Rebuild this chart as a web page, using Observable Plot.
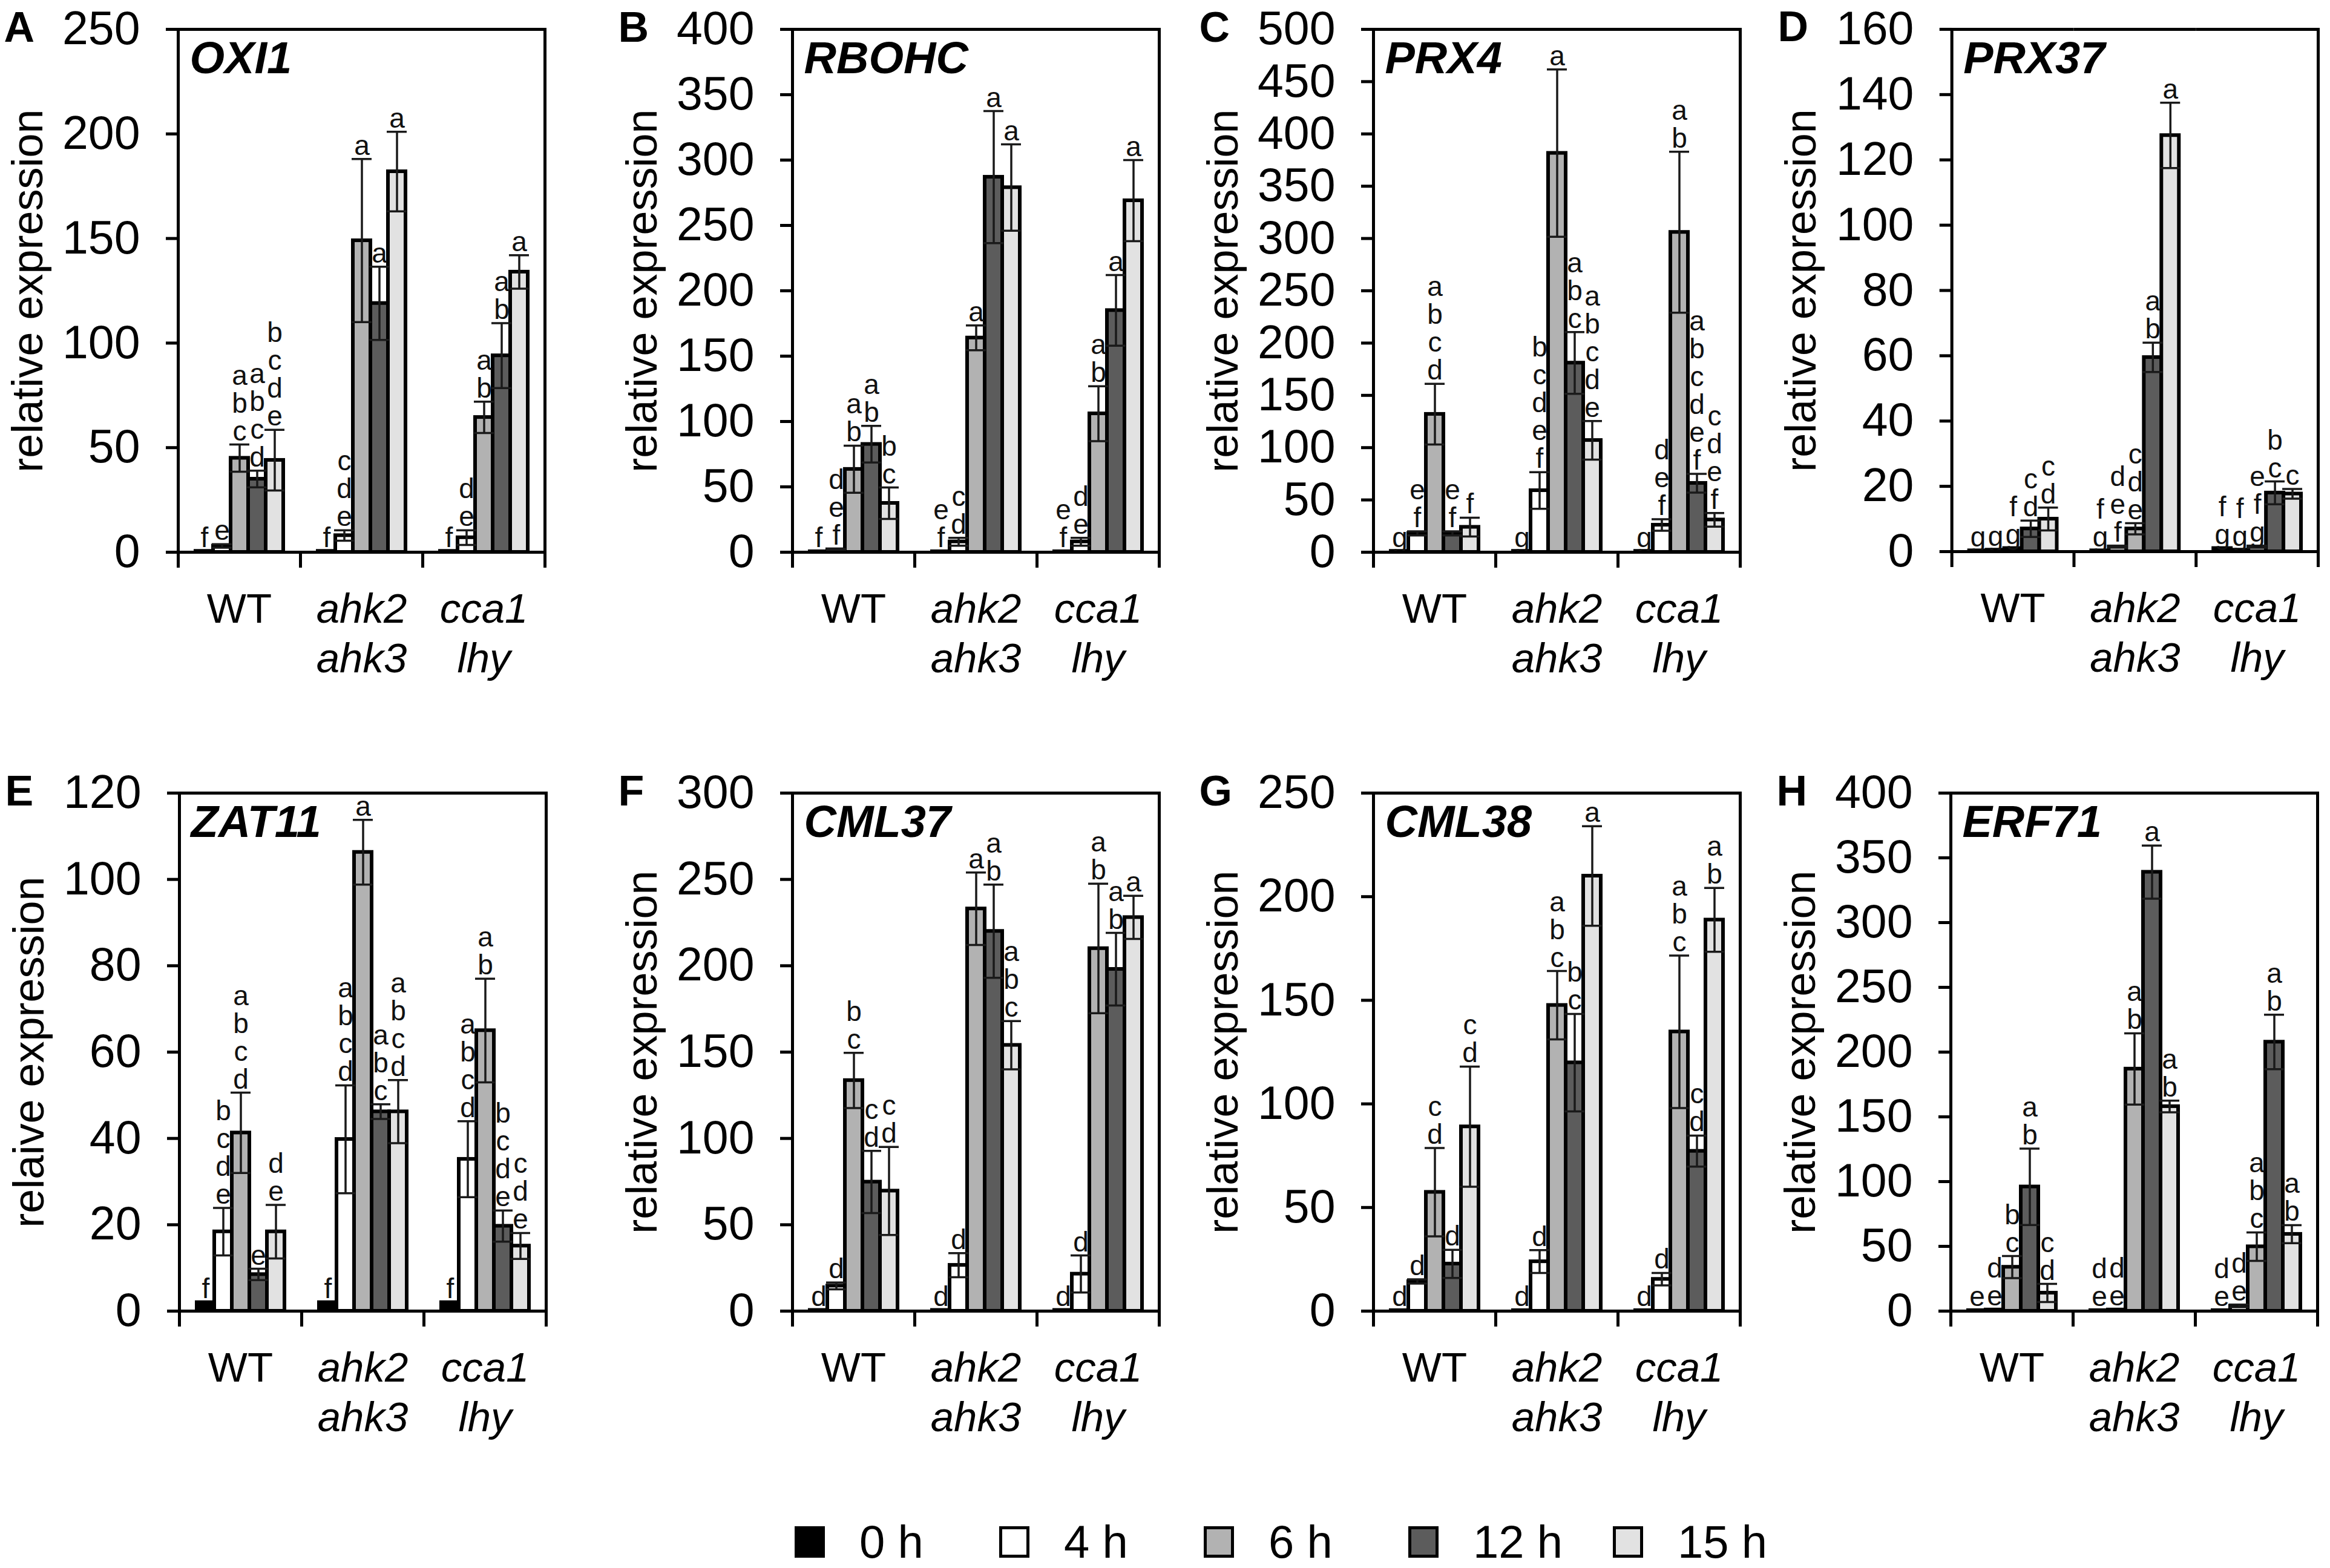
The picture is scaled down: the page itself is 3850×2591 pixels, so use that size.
<!DOCTYPE html>
<html><head><meta charset="utf-8">
<script src="https://cdn.jsdelivr.net/npm/d3@7"></script>
<script src="https://cdn.jsdelivr.net/npm/@observablehq/plot@0.6"></script>
<style>
html,body{margin:0;padding:0;background:#fff;}
#page{position:relative;width:3850px;height:2591px;background:#fff;overflow:hidden;font-family:"Liberation Sans",Arial,sans-serif;color:#000;}
.panel{position:absolute;}
#legend{position:absolute;left:1313px;top:2510px;display:flex;align-items:center;height:76px;}
.item{width:338px;display:flex;align-items:center;font-size:76px;line-height:76px;}
.sw{width:50px;height:52px;box-sizing:border-box;border:5px solid #000;margin-right:57px;}
</style></head>
<body><div id="page"></div>
<script>
// ---- categories ----
const groups = ["WT", "ahk2 ahk3", "cca1 lhy"];
const groupLines = ["WT", "ahk2\nahk3", "cca1\nlhy"];
const times = ["0 h", "4 h", "6 h", "12 h", "15 h"];
const timeFills = ["#000000", "#ffffff", "#b2b2b2", "#5c5c5c", "#e2e2e2"];
const genes = ["OXI1", "RBOHC", "PRX4", "PRX37", "ZAT11", "CML37", "CML38", "ERF71"];
const panelLetters = ["A", "B", "C", "D", "E", "F", "G", "H"];
const yTitles = ["relative expression", "relative expression", "relative expression", "relative expression",
                 "relaive expression", "relative expression", "relative expression", "relative expression"];
const yMax = [250, 400, 500, 160, 120, 300, 250, 400];
const yStep = [50, 50, 50, 20, 20, 50, 50, 50];

// ---- values (order: WT 0,4,6,12,15 h | ahk2 ahk3 ... | cca1 lhy ...) ----
const oxi1Mean = [0.5, 3, 45, 35, 44, 0.5, 8, 149, 119, 182, 0.5, 7, 64.5, 94, 134];
const oxi1Sd   = [0, 0.8, 6.5, 4, 14.5, 0, 2.5, 39, 17.5, 19, 0, 3.5, 7.5, 15.5, 8];
const oxi1Sig  = ["f","e","abc","abcd","bcde","f","cde","a","a","a","f","de","ab","ab","a"];

const rbohcMean = [0.5, 2, 63.5, 82.6, 37.5, 0.5, 8, 164, 287, 279, 0.5, 8, 106, 185, 269];
const rbohcSd   = [0, 0.5, 18, 14, 12, 0, 3, 9.5, 50.5, 33, 0, 3, 21, 27, 31];
const rbohcSig  = ["f","def","ab","ab","bc","ef","cd","a","a","a","ef","de","ab","a","a"];

const prx4Mean = [1, 18, 132, 18, 24, 1, 59, 381.6, 181, 107, 1, 26, 306, 66, 31];
const prx4Sd   = [0, 2, 29, 2, 9, 0, 17.5, 80, 29.5, 18.5, 0, 5.5, 77, 9, 6.5];
const prx4Sig  = ["g","ef","abcd","ef","f","g","bcdef","a","abc","abcde","g","def","ab","abcdef","cdef"];

const prx37Mean = [0.3, 0.5, 1, 7, 10, 0.3, 1.5, 7, 59.5, 127.5, 1, 0.5, 1.5, 18, 17.7];
const prx37Sd   = [0, 0, 0, 2.5, 3.5, 0, 0.3, 1.7, 4.5, 10, 0, 0, 0.3, 3.5, 1.5];
const prx37Sig  = ["g","g","fg","cd","cd","fg","def","cde","ab","a","fg","fg","efg","bc","c"];

const zat11Mean = [2, 18.4, 41.3, 8.5, 18.4, 2, 39.8, 106.3, 46.2, 46.2, 2, 35.2, 65, 19.7, 15.1];
const zat11Sd   = [0, 5.5, 9.3, 1.3, 6.2, 0, 12.5, 7.5, 1.7, 7.3, 0, 8.8, 12, 3.6, 3];
const zat11Sig  = ["f","bcde","abcd","e","de","f","abcd","a","abc","abcd","f","abcd","ab","bcde","cde"];

const cml37Mean = [0.5, 14.6, 133.6, 74.8, 69.6, 0.5, 26.6, 233, 220, 154, 0.5, 21.5, 210, 198, 228];
const cml37Sd   = [0, 2, 16, 18, 25.5, 0, 7, 21, 27, 14, 0, 10.7, 37.5, 21, 12.5];
const cml37Sig  = ["d","d","bc","cd","cd","d","d","a","ab","abc","d","d","ab","ab","a"];

const cml38Mean = [0.3, 14.3, 57.4, 22.8, 89, 0.3, 23.9, 147.6, 119.9, 210, 0.3, 15.4, 134.8, 77.2, 188.8];
const cml38Sd   = [0, 1, 21.3, 6.8, 29, 0, 5.5, 16.5, 23.5, 24, 0, 3, 36.8, 7.5, 15.4];
const cml38Sig  = ["d","d","cd","d","cd","d","d","abc","bc","a","d","d","abc","cd","ab"];

const erf71Mean = [0.5, 1, 34, 96, 14, 0.5, 1, 187, 339, 158, 0.5, 4, 49.8, 207.8, 59.4];
const erf71Sd   = [0, 0, 8.5, 29.5, 7, 0, 0, 27.5, 20.5, 4.5, 0, 1, 11, 21, 7];
const erf71Sig  = ["e","de","bc","ab","cd","de","de","ab","a","ab","de","de","abc","ab","ab"];

const means = [oxi1Mean, rbohcMean, prx4Mean, prx37Mean, zat11Mean, cml37Mean, cml38Mean, erf71Mean];
const sds   = [oxi1Sd, rbohcSd, prx4Sd, prx37Sd, zat11Sd, cml37Sd, cml38Sd, erf71Sd];
const sigs  = [oxi1Sig, rbohcSig, prx4Sig, prx37Sig, zat11Sig, cml37Sig, cml38Sig, erf71Sig];

// ---- layout ----
const FONT = '"Liberation Sans", Arial, sans-serif';
const panelLeft = [0, 1015, 1975, 2931, 2, 1015, 1975, 2929];
const panelTop  = [0, 0, 0, 0, 1262, 1262, 1262, 1262];
const innerH    = [864, 864, 864, 864, 856, 856, 856, 856];
const frameW = 607, mL = 293, mR = 20, mT = 48, mB = 220;

function makePanel(i) {
  const rows = [];
  groups.forEach((g, gi) => times.forEach((t, ti) => {
    const k = gi * 5 + ti;
    rows.push({group: g, time: t, value: means[i][k], sd: sds[i][k], sig: sigs[i][k]});
  }));
  const err = rows.filter(d => d.sd > 0);
  const first = [{group: groups[0]}];
  const glab = groups.map((g, gi) => ({group: g, label: groupLines[gi]}));
  const H = innerH[i];
  return Plot.plot({
    width: mL + frameW + mR,
    height: mT + H + mB,
    marginLeft: mL, marginRight: mR, marginTop: mT, marginBottom: mB,
    style: {fontFamily: FONT, fontSize: "77px", color: "#000", background: "transparent", overflow: "visible"},
    fx: {domain: groups, padding: 0, axis: null, label: null},
    x: {domain: times, paddingInner: 0, paddingOuter: 0.872, axis: null, label: null},
    y: {domain: [0, yMax[i]], axis: null, label: null},
    color: {domain: times, range: timeFills},
    marks: [
      Plot.barY(rows, {fx: "group", x: "time", y: "value", fill: "time", stroke: "#000", strokeWidth: 6}),
      Plot.ruleX(err, {fx: "group", x: "time", y1: d => Math.max(0, d.value - d.sd), y2: d => d.value + d.sd, stroke: "#1a1a1a", strokeWidth: 3.5}),
      Plot.tickY(err, {fx: "group", x: "time", y: d => d.value + d.sd, stroke: "#1a1a1a", strokeWidth: 3.5, insetLeft: -2, insetRight: -2}),
      Plot.tickY(err, {fx: "group", x: "time", y: d => Math.max(0, d.value - d.sd), stroke: "#1a1a1a", strokeWidth: 3.5, insetLeft: -2, insetRight: -2}),
      Plot.text(rows, {fx: "group", x: "time", y: d => d.value + d.sd, text: d => d.sig.split("").join("\n"),
        lineAnchor: "bottom", lineHeight: 1.0, dy: -7, fontSize: 46, fill: "#111", fontFamily: FONT}),
      Plot.ruleY([0], {stroke: "#000", strokeWidth: 5}),
      Plot.ruleY([yMax[i]], {stroke: "#000", strokeWidth: 5}),
      Plot.frame({anchor: "left", facetAnchor: "left", stroke: "#000", strokeWidth: 5}),
      Plot.frame({anchor: "right", facetAnchor: "right", stroke: "#000", strokeWidth: 5}),
      Plot.frame({anchor: "left", insetTop: H, insetBottom: -23, stroke: "#000", strokeWidth: 5}),
      Plot.frame({anchor: "right", facetAnchor: "right", insetTop: H, insetBottom: -23, stroke: "#000", strokeWidth: 5}),
      Plot.axisY({ticks: d3.range(0, yMax[i] + 1, yStep[i]), tickSize: 20, tickPadding: 43, strokeWidth: 5,
        fontSize: 77, tickFormat: d => String(d), label: null}),
      Plot.text(glab.filter(d => d.group === "WT"), {fx: "group", frameAnchor: "bottom", text: "label",
        lineAnchor: "top", dy: 58, lineHeight: 1.19, fontSize: 69, fontFamily: FONT}),
      Plot.text(glab.filter(d => d.group !== "WT"), {fx: "group", frameAnchor: "bottom", text: "label",
        lineAnchor: "top", dy: 58, lineHeight: 1.19, fontSize: 69, fontStyle: "italic", fontFamily: FONT}),
      Plot.text(first, {fx: "group", frameAnchor: "left", dx: -248, rotate: -90, text: () => yTitles[i],
        fontSize: 72, textAnchor: "middle", lineAnchor: "middle", fontFamily: FONT}),
      Plot.text(first, {fx: "group", frameAnchor: "top-left", dx: 19, dy: 20, text: () => genes[i],
        fontSize: 74, fontWeight: "bold", fontStyle: "italic", textAnchor: "start", lineAnchor: "top", fontFamily: FONT}),
      Plot.text(first, {fx: "group", frameAnchor: "top-left", dx: -288, dy: 20, text: () => panelLetters[i],
        fontSize: 70, fontWeight: "bold", textAnchor: "start", lineAnchor: "bottom", fontFamily: FONT})
    ]
  });
}

const page = document.getElementById("page");
genes.forEach((g, i) => {
  const div = document.createElement("div");
  div.className = "panel";
  div.style.left = panelLeft[i] + "px";
  div.style.top = panelTop[i] + "px";
  div.appendChild(makePanel(i));
  page.appendChild(div);
});

// legend
const legend = document.createElement("div");
legend.id = "legend";
times.forEach((t, ti) => {
  const item = document.createElement("div");
  item.className = "item";
  const sw = document.createElement("div");
  sw.className = "sw";
  sw.style.background = timeFills[ti];
  const lab = document.createElement("span");
  lab.textContent = t;
  item.appendChild(sw);
  item.appendChild(lab);
  legend.appendChild(item);
});
page.appendChild(legend);
</script>
</body></html>
